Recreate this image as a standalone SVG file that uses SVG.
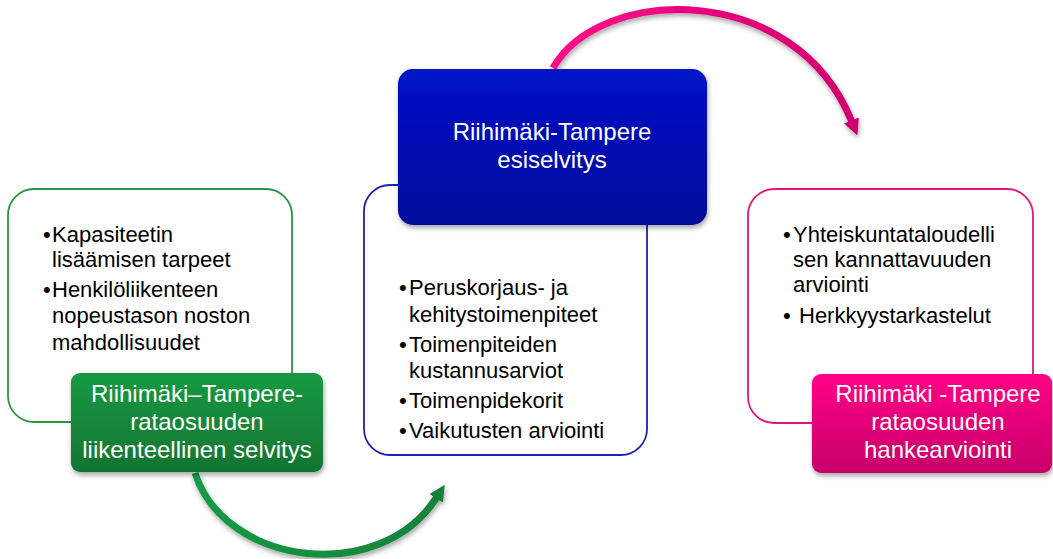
<svg xmlns="http://www.w3.org/2000/svg" width="1053" height="559" viewBox="0 0 1053 559">
<defs>
<style>
.txt{font-family:"Liberation Sans",Arial,sans-serif;font-size:22px;fill:#000}
.ttl{font-family:"Liberation Sans",Arial,sans-serif;font-size:24px;fill:#fff;text-anchor:middle}
.outline{fill:#fff;stroke-width:1.8}
</style>
<linearGradient id="gGreen" x1="0" y1="0" x2="0" y2="1"><stop offset="0" stop-color="#179a42"/><stop offset="1" stop-color="#117431"/></linearGradient>
<linearGradient id="gBlue" x1="0" y1="0" x2="0" y2="1"><stop offset="0" stop-color="#0013c8"/><stop offset="1" stop-color="#00089a"/></linearGradient>
<linearGradient id="gPink" x1="0" y1="0" x2="0" y2="1"><stop offset="0" stop-color="#ff0586"/><stop offset="1" stop-color="#c8006a"/></linearGradient>
<linearGradient id="aGreen" x1="195" y1="0" x2="446" y2="0" gradientUnits="userSpaceOnUse"><stop offset="0" stop-color="#139a45"/><stop offset="1" stop-color="#13803a"/></linearGradient>
<linearGradient id="aPink" x1="553" y1="0" x2="860" y2="0" gradientUnits="userSpaceOnUse"><stop offset="0" stop-color="#ff0a8a"/><stop offset="1" stop-color="#d0006e"/></linearGradient>
<filter id="sh" x="-10%" y="-10%" width="125%" height="130%"><feDropShadow dx="1" dy="3" stdDeviation="2.5" flood-color="#000" flood-opacity="0.35"/></filter>
<marker id="headG" viewBox="0 0 10 10" refX="1" refY="5" markerWidth="2.3" markerHeight="2.3" orient="auto"><path d="M0,0 L10,5 L0,10 z" fill="#13803a"/></marker>
<marker id="headP" viewBox="0 0 10 10" refX="1" refY="5" markerWidth="2.3" markerHeight="2.3" orient="auto"><path d="M0,0 L10,5 L0,10 z" fill="#d0006e"/></marker>
</defs>

<g id="connectors">
<path d="M195,473 C225,566 380,586 437,497" fill="none" stroke="url(#aGreen)" stroke-width="7" marker-end="url(#headG)" filter="url(#sh)"/>
<path d="M553,68 C600,-15 795,-20 852,122" fill="none" stroke="url(#aPink)" stroke-width="7" marker-end="url(#headP)" filter="url(#sh)"/>
</g>

<g id="node-left">
<rect class="outline" x="8" y="189" width="284" height="233" rx="26" stroke="#2e9445"/>
<text class="txt" x="43" y="242">•</text><text class="txt" x="52" y="242">Kapasiteetin</text>
<text class="txt" x="52" y="267">lisäämisen tarpeet</text>
<text class="txt" x="43" y="297">•</text><text class="txt" x="52" y="297">Henkilöliikenteen</text>
<text class="txt" x="52" y="323">nopeustason noston</text>
<text class="txt" x="52" y="350">mahdollisuudet</text>
</g>
<g id="node-left-title">
<rect x="71" y="373" width="252" height="99" rx="9" fill="url(#gGreen)" filter="url(#sh)"/>
<text class="ttl" x="197" y="402">Riihimäki–Tampere-</text>
<text class="ttl" x="197" y="430">rataosuuden</text>
<text class="ttl" x="197" y="458">liikenteellinen selvitys</text>
</g>

<g id="node-middle">
<rect class="outline" x="364" y="185" width="283" height="270" rx="26" stroke="#1c22b0"/>
<text class="txt" x="399" y="295">•</text><text class="txt" x="409" y="295">Peruskorjaus- ja</text>
<text class="txt" x="409" y="322">kehitystoimenpiteet</text>
<text class="txt" x="399" y="352">•</text><text class="txt" x="409" y="352">Toimenpiteiden</text>
<text class="txt" x="409" y="378">kustannusarviot</text>
<text class="txt" x="399" y="408">•</text><text class="txt" x="409" y="408">Toimenpidekorit</text>
<text class="txt" x="399" y="438">•</text><text class="txt" x="409" y="438">Vaikutusten arviointi</text>
</g>
<g id="node-middle-title">
<rect x="398" y="69" width="309" height="156" rx="15" fill="url(#gBlue)" filter="url(#sh)"/>
<text class="ttl" x="552" y="140">Riihimäki-Tampere</text>
<text class="ttl" x="552" y="168">esiselvitys</text>
</g>

<g id="node-right">
<rect class="outline" x="748" y="189" width="285" height="234" rx="26" stroke="#e0157f"/>
<text class="txt" x="783" y="242">•</text><text class="txt" x="793" y="242">Yhteiskuntataloudelli</text>
<text class="txt" x="793" y="267">sen kannattavuuden</text>
<text class="txt" x="793" y="292">arviointi</text>
<text class="txt" x="783" y="323">•</text><text class="txt" x="799" y="323">Herkkyystarkastelut</text>
</g>
<g id="node-right-title">
<rect x="812" y="374" width="240" height="99" rx="9" fill="url(#gPink)" filter="url(#sh)"/>
<text class="ttl" x="938" y="402">Riihimäki -Tampere</text>
<text class="ttl" x="938" y="430">rataosuuden</text>
<text class="ttl" x="938" y="458">hankearviointi</text>
</g>
</svg>
